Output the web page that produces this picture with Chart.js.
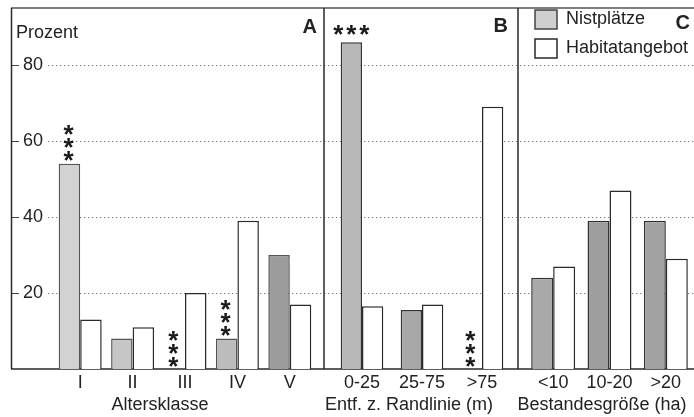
<!DOCTYPE html>
<html><head><meta charset="utf-8">
<script src="https://cdn.jsdelivr.net/npm/chart.js@4/dist/chart.umd.min.js"></script>
<style>
html,body{margin:0;padding:0;background:#fff;}
#wrap{position:relative;width:694px;height:417px;background:#fff;overflow:hidden;}
#wrap canvas{position:absolute;left:0;top:0;}
</style></head><body>
<div id="wrap">
<canvas id="cA" width="694" height="417"></canvas>
<canvas id="cB" width="694" height="417"></canvas>
<canvas id="cC" width="694" height="417"></canvas>
</div>
<script>
// ---- data ----
const seriesNames = ['Nistplätze', 'Habitatangebot'];
const catA = ['I', 'II', 'III', 'IV', 'V'];
const nistA = [54, 8, 0, 8, 30];
const habA = [13, 11, 20, 39, 17];
const sigA = ['***', '', '***', '***', ''];
const catB = ['0-25', '25-75', '>75'];
const nistB = [86, 15.5, 0];
const habB = [16.5, 17, 69];
const sigB = ['***', '', '***'];
const catC = ['<10', '10-20', '>20'];
const nistC = [24, 39, 39];
const habC = [27, 47, 29];
const sigC = ['', '', ''];
const yTicks = [20, 40, 60, 80];
const yTitle = 'Prozent';
const xTitles = ['Altersklasse', 'Entf. z. Randlinie (m)', 'Bestandesgröße (ha)'];
const panelLetters = ['A', 'B', 'C'];

// ---- style ----
const FONT = '"Liberation Sans", Arial, Helvetica, sans-serif';
const TXT = '#222';
Chart.defaults.font.family = FONT;
Chart.defaults.color = TXT;
const Y_MAX = 95;

const starsPlugin = {
  id: 'stars',
  afterDatasetsDraw(chart, args, opts) {
    const sig = opts.sig || [];
    const meta = chart.getDatasetMeta(0);
    const ctx = chart.ctx;
    const top = chart.chartArea.top;
    ctx.save();
    ctx.fillStyle = '#1a1a1a';
    ctx.font = 'bold 26px ' + FONT;
    ctx.textAlign = 'center';
    ctx.textBaseline = 'alphabetic';
    const off = 14.5;
    sig.forEach((s, i) => {
      if (!s) return;
      const bar = meta.data[i];
      const n = s.length;
      if (bar.y - top < 50) {
        for (let k = 0; k < n; k++) {
          ctx.fillText('*', bar.x + (k - (n - 1) / 2) * 13, bar.y - 14 + off);
        }
      } else {
        for (let k = 0; k < n; k++) {
          ctx.fillText('*', bar.x - 1, bar.y - 9 - k * 13 + off);
        }
      }
    });
    ctx.restore();
  }
};

const panelTextPlugin = {
  id: 'panelText',
  afterDraw(chart, args, opts) {
    const ctx = chart.ctx;
    const ca = chart.chartArea;
    ctx.save();
    ctx.fillStyle = TXT;
    ctx.font = 'bold 20px ' + FONT;
    ctx.textAlign = 'right';
    ctx.textBaseline = 'alphabetic';
    ctx.fillText(opts.letter, ca.right + opts.letterDx, opts.letterY);
    ctx.font = '18px ' + FONT;
    ctx.textAlign = 'center';
    ctx.textBaseline = 'middle';
    ctx.fillText(opts.title, opts.titleX, 405);
    ctx.restore();
  }
};

const framePlugin = {
  id: 'frame',
  beforeDatasetsDraw(chart) {
    const ctx = chart.ctx;
    const y = chart.scales.y;
    const bottom = y.getPixelForValue(0);
    const top = y.getPixelForValue(Y_MAX);
    ctx.save();
    // dotted grid lines
    ctx.strokeStyle = '#7a7a7a';
    ctx.lineWidth = 1;
    ctx.setLineDash([1.3, 2.7]);
    yTicks.forEach(v => {
      const py = Math.round(y.getPixelForValue(v)) + 0.5;
      ctx.beginPath(); ctx.moveTo(48, py); ctx.lineTo(694, py); ctx.stroke();
    });
    ctx.setLineDash([]);
    // small ticks at left frame
    ctx.strokeStyle = '#444';
    yTicks.forEach(v => {
      const py = Math.round(y.getPixelForValue(v)) + 0.5;
      ctx.beginPath(); ctx.moveTo(11, py); ctx.lineTo(19, py); ctx.stroke();
    });
    // frame
    ctx.lineWidth = 1.5;
    ctx.strokeStyle = '#555';
    ctx.beginPath(); ctx.moveTo(11, top); ctx.lineTo(694, top); ctx.stroke();
    ctx.strokeStyle = '#2a2a2a';
    ctx.beginPath();
    ctx.moveTo(11.5, top); ctx.lineTo(11.5, bottom);
    ctx.moveTo(324, top); ctx.lineTo(324, bottom);
    ctx.moveTo(518, top); ctx.lineTo(518, bottom);
    ctx.moveTo(11, bottom); ctx.lineTo(694, bottom);
    ctx.stroke();
    // y title
    ctx.fillStyle = TXT;
    ctx.font = '18px ' + FONT;
    ctx.textAlign = 'left';
    ctx.textBaseline = 'alphabetic';
    ctx.fillText(yTitle, 16, 38);
    ctx.restore();
  }
};

function makePanel(id, labels, nist, hab, sig, cfg) {
  return new Chart(document.getElementById(id), {
    type: 'bar',
    data: {
      labels: labels,
      datasets: [
        { label: seriesNames[0], data: nist, backgroundColor: cfg.nistColors,
          borderColor: cfg.nistBorder, borderWidth: 1.5 },
        { label: seriesNames[1], data: hab, backgroundColor: '#ffffff',
          borderColor: '#2a2a2a', borderWidth: 1.5 }
      ]
    },
    options: {
      responsive: false,
      animation: false,
      devicePixelRatio: 1,
      layout: { padding: { left: cfg.padLeft, right: cfg.padRight, top: 8, bottom: 0 } },
      datasets: { bar: { categoryPercentage: cfg.catPct, barPercentage: 1 } },
      scales: {
        x: {
          grid: { display: false, drawTicks: false },
          border: { display: false },
          ticks: { font: { size: 18 }, color: TXT, padding: 3, maxRotation: 0, autoSkip: false },
          afterFit: s => { s.height = 48; s.paddingLeft = 0; s.paddingRight = 0; }
        },
        y: {
          display: cfg.showY,
          min: 0, max: Y_MAX,
          grid: { display: false, drawTicks: false },
          border: { display: false },
          ticks: {
            stepSize: 20, font: { size: 18 }, color: TXT, padding: 11,
            callback: v => (yTicks.includes(v) ? String(v) : null)
          },
          afterFit: s => {
            s.width = cfg.showY ? 54 : 0;
            s.paddingTop = 0; s.paddingBottom = 0;
          }
        }
      },
      plugins: {
        legend: cfg.legend ? {
          display: true, position: 'chartArea', align: 'start',
          labels: {
            font: { size: 18 }, color: TXT, boxWidth: 22, boxHeight: 19, padding: 10,
            generateLabels: chart => Chart.defaults.plugins.legend.labels.generateLabels(chart).map((l, i) => {
              if (i === 0) { l.fillStyle = '#cfcfcf'; l.strokeStyle = '#444'; }
              return l;
            })
          }
        } : { display: false },
        tooltip: { enabled: false },
        stars: { sig: sig },
        panelText: { letter: cfg.letter, letterY: cfg.letterY, letterDx: cfg.letterDx, title: cfg.title, titleX: cfg.titleX }
      }
    },
    plugins: cfg.frame ? [framePlugin, starsPlugin, panelTextPlugin] : [starsPlugin, panelTextPlugin]
  });
}

makePanel('cA', catA, nistA, habA, sigA, {
  padLeft: 0, padRight: 378, catPct: 0.82, showY: true, frame: true, legend: false,
  nistColors: ['#d2d2d2', '#c6c6c6', '#c6c6c6', '#bcbcbc', '#9c9c9c'], nistBorder: '#555',
  letter: panelLetters[0], letterY: 33, letterDx: 1, title: xTitles[0], titleX: 160
});
makePanel('cB', catB, nistB, habB, sigB, {
  padLeft: 332, padRight: 182, catPct: 0.71, showY: false, frame: false, legend: false,
  nistColors: ['#b8b8b8', '#a8a8a8', '#a8a8a8'], nistBorder: '#333',
  letter: panelLetters[1], letterY: 32, letterDx: -4, title: xTitles[1], titleX: 409
});
makePanel('cC', catC, nistC, habC, sigC, {
  padLeft: 525, padRight: 0, catPct: 0.78, showY: false, frame: false, legend: true,
  nistColors: ['#a9a9a9', '#9e9e9e', '#a2a2a2'], nistBorder: '#333',
  letter: panelLetters[2], letterY: 29, letterDx: -4, title: xTitles[2], titleX: 602
});
</script>
</body></html>
